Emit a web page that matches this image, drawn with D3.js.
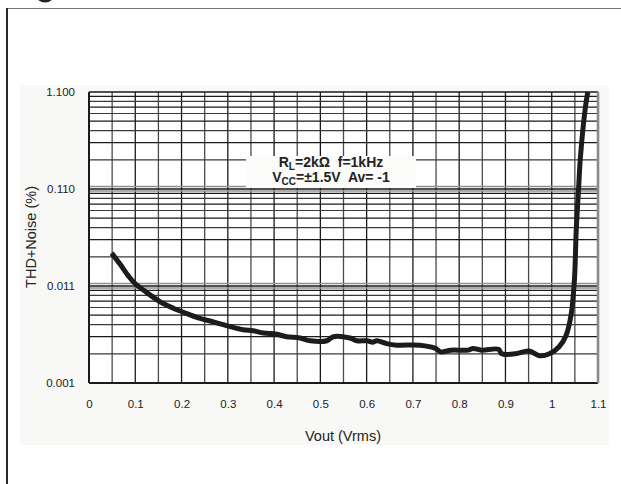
<!DOCTYPE html>
<html>
<head>
<meta charset="utf-8">
<script src="https://cdn.jsdelivr.net/npm/d3@7/dist/d3.min.js"></script>
<style>
  html, body { margin: 0; padding: 0; background: #ffffff; }
  svg { display: block; }
  text { font-family: "Liberation Sans", Arial, Helvetica, sans-serif; }
</style>
</head>
<body>
<svg id="chart" width="621" height="484"></svg>
<script>
// THD+N versus output voltage, RL = 2 kΩ, f = 1 kHz
const vout = [0.049, 0.067, 0.085, 0.1, 0.125, 0.153, 0.182, 0.204, 0.24, 0.269,
  0.305, 0.333, 0.355, 0.377, 0.406, 0.427, 0.456, 0.478, 0.514, 0.528,
  0.564, 0.579, 0.6, 0.614, 0.622, 0.643, 0.665, 0.715, 0.749, 0.76,
  0.782, 0.819, 0.83, 0.848, 0.885, 0.892, 0.921, 0.951, 0.973, 0.995,
  1.016, 1.031, 1.042, 1.049, 1.053, 1.058, 1.062, 1.073, 1.078];
const thdNoise = [0.0240, 0.0185, 0.0140, 0.0116, 0.0094, 0.0076, 0.0065, 0.0059, 0.0051, 0.0047,
  0.0042, 0.0039, 0.0038, 0.0036, 0.0035, 0.0033, 0.0032, 0.0030, 0.0030, 0.0033,
  0.0032, 0.0030, 0.0030, 0.0029, 0.0030, 0.0028, 0.0027, 0.0027, 0.0025, 0.0023,
  0.0024, 0.0024, 0.0025, 0.0024, 0.00245, 0.0022, 0.0022, 0.00235, 0.0021, 0.0022,
  0.0026, 0.0034, 0.0056, 0.0126, 0.042, 0.11, 0.233, 0.78, 1.1];

const xTicks = [0, 0.1, 0.2, 0.3, 0.4, 0.5, 0.6, 0.7, 0.8, 0.9, 1, 1.1];
const yTicks = [0.0011, 0.011, 0.11, 1.1];
const xDomain = [0, 1.1];
const yDomain = [0.0011, 1.1];

const svg = d3.select("#chart");
const plot = { left: 89, top: 92, right: 598, bottom: 383 };

const x = d3.scaleLinear().domain(xDomain).range([plot.left, plot.right]);
const y = d3.scaleLog().domain(yDomain).range([plot.bottom, plot.top]);

// page frame
svg.append("line").attr("x1", 7).attr("x2", 7).attr("y1", 8).attr("y2", 484)
  .attr("stroke", "#2a2a2a").attr("stroke-width", 2);
svg.append("line").attr("x1", 8).attr("x2", 621).attr("y1", 8.5).attr("y2", 8.5)
  .attr("stroke", "#777").attr("stroke-width", 1.2);
// tail of the heading glyph above the frame
svg.append("path").attr("d", "M38,0 Q45,5 52,0 Z").attr("fill", "#222");

// chart panel
svg.append("rect").attr("x", 20).attr("y", 85).attr("width", 589).attr("height", 360)
  .attr("fill", "#f8f8f6");
svg.append("rect").attr("x", plot.left).attr("y", plot.top)
  .attr("width", plot.right - plot.left).attr("height", plot.bottom - plot.top)
  .attr("fill", "#ffffff");

const grid = svg.append("g");

// vertical grid: every 0.05 V
const vLines = d3.range(1, 22).map(i => i * 0.05);
grid.selectAll("line.v").data(vLines).join("line")
  .attr("x1", d => x(d)).attr("x2", d => x(d))
  .attr("y1", plot.top).attr("y2", plot.bottom)
  .attr("stroke", (d, i) => i % 2 === 1 ? "#1a1a1a" : "#4a4a4a")
  .attr("stroke-width", 1.3);

// horizontal grid: log minors inside each decade
const minors = [];
yTicks.slice(0, 3).forEach(base => {
  for (let k = 2; k <= 9; k++) minors.push(base * k);
});
grid.selectAll("line.h").data(minors).join("line")
  .attr("x1", plot.left).attr("x2", plot.right)
  .attr("y1", d => y(d)).attr("y2", d => y(d))
  .attr("stroke", (d, i) => i % 2 ? "#1a1a1a" : "#3a3a3a").attr("stroke-width", 1.2);

// decade lines, drawn doubled
const decades = yTicks.slice(1, 3);
grid.selectAll("line.dg").data(decades).join("line")
  .attr("x1", plot.left).attr("x2", plot.right)
  .attr("y1", d => y(d) - 2.5).attr("y2", d => y(d) - 2.5)
  .attr("stroke", "#909090").attr("stroke-width", 1.6);
grid.selectAll("line.dg2").data(decades).join("line")
  .attr("x1", plot.left).attr("x2", plot.right)
  .attr("y1", d => y(d) + 2).attr("y2", d => y(d) + 2)
  .attr("stroke", "#909090").attr("stroke-width", 1.4);
grid.selectAll("line.d").data(decades).join("line")
  .attr("x1", plot.left).attr("x2", plot.right)
  .attr("y1", d => y(d)).attr("y2", d => y(d))
  .attr("stroke", "#1a1a1a").attr("stroke-width", 1.4);

// plot border
svg.append("line").attr("x1", plot.left).attr("x2", plot.right)
  .attr("y1", plot.top).attr("y2", plot.top).attr("stroke", "#1a1a1a").attr("stroke-width", 1.6);
svg.append("line").attr("x1", plot.left).attr("x2", plot.right)
  .attr("y1", plot.bottom).attr("y2", plot.bottom).attr("stroke", "#1a1a1a").attr("stroke-width", 2.2);
svg.append("line").attr("x1", plot.left).attr("x2", plot.left)
  .attr("y1", plot.top).attr("y2", plot.bottom).attr("stroke", "#1a1a1a").attr("stroke-width", 2);
svg.append("line").attr("x1", plot.right).attr("x2", plot.right)
  .attr("y1", plot.top).attr("y2", plot.bottom).attr("stroke", "#8a8a8a").attr("stroke-width", 2.6);

// condition box
const box = svg.append("g");
box.append("rect").attr("x", 246).attr("y", 156).attr("width", 170).attr("height", 32)
  .attr("fill", "#fbfbf9");
const t1 = box.append("text").attr("x", 331).attr("y", 167).attr("text-anchor", "middle")
  .attr("font-size", 14).attr("font-weight", "bold").attr("fill", "#222")
  .style("white-space", "pre");
t1.append("tspan").text("R");
t1.append("tspan").attr("font-size", 10).attr("dy", 3).text("L");
t1.append("tspan").attr("dy", -3).text("=2kΩ  f=1kHz");
const t2 = box.append("text").attr("x", 331).attr("y", 182).attr("text-anchor", "middle")
  .attr("font-size", 14).attr("font-weight", "bold").attr("fill", "#222")
  .style("white-space", "pre");
t2.append("tspan").text("V");
t2.append("tspan").attr("font-size", 10).attr("dy", 3).text("CC");
t2.append("tspan").attr("dy", -3).text("=±1.5V  Av= -1");

// axes (labels only)
const xAxis = svg.append("g").attr("transform", `translate(0,${plot.bottom + 14})`)
  .call(d3.axisBottom(x).tickValues(xTicks).tickSize(0).tickFormat(d3.format("")));
const yAxis = svg.append("g").attr("transform", `translate(${plot.left - 11},0)`)
  .call(d3.axisLeft(y).tickValues(yTicks).tickSize(0).tickFormat(d3.format(".3f")));
[xAxis, yAxis].forEach(a => {
  a.select(".domain").remove();
  a.selectAll("text").attr("font-size", 11.5).attr("fill", "#222")
    .attr("font-family", "'Liberation Sans', Arial, sans-serif");
});

svg.append("text").attr("x", 343).attr("y", 441).attr("text-anchor", "middle")
  .attr("font-size", 14.5).attr("fill", "#222").text("Vout (Vrms)");
svg.append("text").attr("transform", "translate(36,237) rotate(-90)")
  .attr("text-anchor", "middle").attr("font-size", 14.5).attr("fill", "#222")
  .text("THD+Noise (%)");

// measured curve
const line = d3.line()
  .x(d => x(d[0])).y(d => y(d[1]))
  .curve(d3.curveCatmullRom.alpha(0.5));
svg.append("clipPath").attr("id", "plotClip").append("rect")
  .attr("x", plot.left).attr("y", plot.top - 1)
  .attr("width", plot.right - plot.left).attr("height", plot.bottom - plot.top + 1);
svg.append("path")
  .datum(d3.zip(vout, thdNoise))
  .attr("clip-path", "url(#plotClip)")
  .attr("d", line)
  .attr("fill", "none").attr("stroke", "#1c1c1c")
  .attr("stroke-width", 5).attr("stroke-linejoin", "round").attr("stroke-linecap", "butt");
</script>
</body>
</html>
